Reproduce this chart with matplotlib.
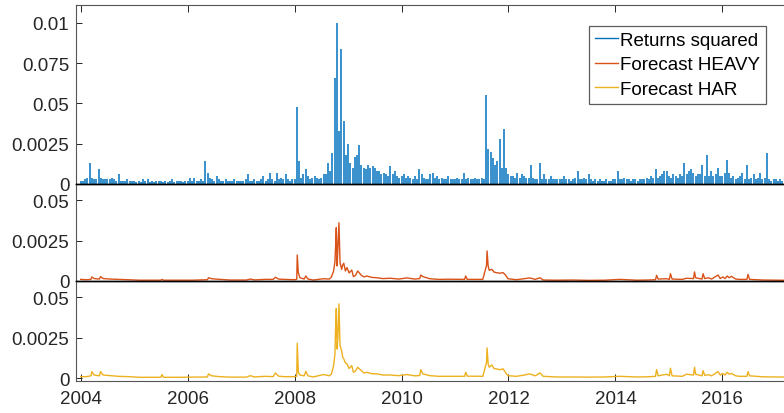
import matplotlib
matplotlib.use('Agg')
import matplotlib.pyplot as plt
from matplotlib.lines import Line2D
import numpy as np

plt.rcParams['font.family'] = ['Liberation Sans', 'DejaVu Sans']

# values are in units of 1e-4
SCALE = 1e-4

# returns squared, envelope read every half month (24 per year), from 2004.0
rs_2004 = [2, 2, 3, 4, 13, 4, 3, 3, 9, 4, 3, 3, 3, 3, 4, 3, 2, 6, 2, 2, 2, 3, 2, 2]
rs_2005 = [2, 1, 2, 1, 3, 2, 3, 1, 2, 1, 2, 2, 2, 1, 2, 1, 2, 3, 1, 2, 2, 2, 1, 2]
rs_2006 = [2, 4, 2, 4, 2, 2, 3, 2, 14, 7, 4, 3, 2, 5, 3, 2, 2, 3, 2, 2, 2, 3, 2, 2]
rs_2007 = [2, 2, 3, 6, 2, 2, 3, 2, 2, 3, 5, 2, 3, 7, 3, 2, 7, 3, 4, 3, 6, 3, 2, 3]
rs_2008 = [3, 48, 14, 4, 6, 9, 5, 3, 4, 5, 4, 3, 4, 6, 6, 13, 8, 19, 66, 100, 33, 84, 39, 18]
rs_2009 = [25, 13, 10, 17, 18, 24, 12, 10, 9, 12, 10, 11, 10, 8, 8, 6, 7, 6, 5, 11, 6, 8, 5, 4]
rs_2010 = [5, 6, 4, 5, 4, 3, 5, 3, 9, 6, 4, 3, 3, 6, 7, 4, 5, 3, 4, 3, 3, 5, 3, 3]
rs_2011 = [3, 4, 3, 3, 7, 3, 4, 3, 3, 4, 3, 3, 4, 3, 55, 22, 20, 16, 12, 14, 28, 10, 34, 10]
rs_2012 = [6, 5, 5, 4, 7, 4, 6, 5, 4, 4, 12, 4, 3, 3, 13, 3, 6, 3, 3, 5, 3, 3, 3, 3]
rs_2013 = [3, 5, 3, 3, 2, 3, 4, 8, 3, 3, 4, 3, 6, 3, 2, 3, 2, 3, 2, 2, 3, 2, 2, 3]
rs_2014 = [3, 8, 3, 3, 4, 3, 3, 2, 3, 3, 2, 3, 3, 3, 4, 3, 5, 4, 9, 4, 5, 6, 8, 8]
rs_2015 = [5, 4, 6, 5, 4, 6, 5, 13, 6, 8, 9, 7, 5, 6, 6, 12, 5, 18, 5, 8, 5, 6, 10, 5]
rs_2016 = [5, 7, 15, 7, 4, 5, 3, 4, 5, 7, 3, 12, 3, 4, 6, 3, 4, 7, 3, 4, 19, 3, 2, 3]
rs_2017 = [3, 2, 3, 2, 3, 2]

returns_sq = (rs_2004 + rs_2005 + rs_2006 + rs_2007 + rs_2008 + rs_2009 + rs_2010
              + rs_2011 + rs_2012 + rs_2013 + rs_2014 + rs_2015 + rs_2016 + rs_2017)
rs_dates = 2004 + np.arange(len(returns_sq)) / 24.0

# forecasts, read at the turning points of the lines
fc_dates = [2004.00, 2004.10, 2004.19, 2004.21, 2004.25, 2004.35, 2004.37, 2004.42, 2004.55, 2004.70,
            2004.90, 2005.10, 2005.30, 2005.50, 2005.52, 2005.55, 2005.80, 2006.10, 2006.37, 2006.39,
            2006.45, 2006.60, 2006.80, 2007.10, 2007.17, 2007.25, 2007.45, 2007.60, 2007.64, 2007.70,
            2007.80, 2008.00, 2008.04, 2008.05, 2008.07, 2008.10, 2008.18, 2008.21, 2008.25, 2008.35,
            2008.54, 2008.65, 2008.69, 2008.73, 2008.755, 2008.765, 2008.78, 2008.795, 2008.81, 2008.83,
            2008.85, 2008.88, 2008.90, 2008.92, 2008.95, 2008.98, 2009.02, 2009.07, 2009.10, 2009.14,
            2009.18, 2009.25, 2009.30, 2009.35, 2009.45, 2009.54, 2009.65, 2009.79, 2009.95, 2010.10,
            2010.25, 2010.34, 2010.36, 2010.40, 2010.53, 2010.70, 2010.90, 2011.18, 2011.20, 2011.23,
            2011.52, 2011.59, 2011.60, 2011.62, 2011.64, 2011.69, 2011.73, 2011.77, 2011.84, 2011.90,
            2011.95, 2011.99, 2012.15, 2012.30, 2012.40, 2012.50, 2012.59, 2012.65, 2012.90, 2013.20,
            2013.50, 2013.80, 2014.08, 2014.40, 2014.60, 2014.75, 2014.77, 2014.80, 2014.96, 2015.01,
            2015.03, 2015.06, 2015.25, 2015.33, 2015.46, 2015.48, 2015.50, 2015.62, 2015.64, 2015.67,
            2015.74, 2015.80, 2015.92, 2015.96, 2016.01, 2016.05, 2016.09, 2016.13, 2016.17, 2016.25,
            2016.32, 2016.46, 2016.48, 2016.51, 2016.76, 2017.00, 2017.30]

heavy = [1.0, 0.8, 1.0, 2.5, 1.5, 1.2, 2.7, 1.5, 1.2, 1.0,
         0.7, 0.5, 0.5, 0.5, 1.0, 0.5, 0.5, 0.5, 0.8, 2.0,
         1.4, 1.0, 0.6, 0.6, 1.2, 0.7, 1.0, 1.0, 2.3, 1.2,
         1.0, 0.8, 1.0, 16.1, 5.0, 2.0, 1.2, 3.1, 1.2, 0.6,
         1.4, 1.2, 2.5, 6.2, 12.0, 19.6, 33.0, 9.3, 20.0, 36.0,
         11.4, 7.2, 10.0, 11.0, 6.2, 8.3, 5.0, 6.8, 2.7, 3.5,
         6.2, 3.5, 2.5, 3.1, 2.2, 2.0, 1.5, 1.7, 1.2, 1.9,
         1.2, 1.5, 3.7, 2.7, 1.4, 1.0, 1.1, 1.0, 3.1, 1.0,
         1.0, 9.7, 18.6, 9.3, 6.6, 7.2, 5.5, 5.2, 4.8, 5.2,
         3.5, 1.4, 0.8, 1.5, 1.9, 1.0, 2.0, 0.6, 0.5, 0.6,
         0.4, 0.5, 1.0, 0.5, 0.6, 0.8, 3.5, 1.2, 1.4, 1.0,
         4.5, 1.2, 1.0, 1.7, 1.5, 5.6, 2.0, 1.2, 4.5, 1.5,
         2.0, 1.2, 3.7, 1.5, 2.5, 1.5, 3.1, 2.0, 2.9, 1.2,
         1.0, 1.0, 4.1, 1.0, 0.6, 0.5, 0.4]

har = [1.0, 1.0, 1.5, 4.1, 2.0, 1.5, 4.1, 2.0, 1.6, 1.2,
       1.0, 0.6, 0.6, 0.6, 2.3, 0.6, 0.6, 0.7, 0.8, 2.7,
       1.5, 1.0, 0.7, 0.7, 1.6, 0.8, 1.2, 1.0, 3.3, 1.3,
       1.0, 1.0, 1.2, 21.6, 3.7, 2.0, 1.5, 4.3, 1.5, 0.8,
       2.3, 1.5, 2.7, 7.8, 15.0, 28.4, 43.0, 18.0, 25.0, 45.9,
       20.0, 17.0, 13.0, 12.0, 9.5, 8.8, 6.0, 7.8, 3.7, 4.5,
       6.8, 4.7, 3.2, 3.7, 2.8, 2.7, 2.0, 2.0, 1.6, 2.3,
       1.5, 1.7, 5.3, 2.7, 1.6, 1.2, 1.2, 1.2, 3.7, 1.3,
       1.2, 9.9, 18.7, 8.8, 6.8, 8.2, 6.0, 5.8, 5.3, 5.8,
       3.3, 1.6, 1.2, 2.0, 2.7, 1.5, 3.3, 1.2, 0.8, 0.8,
       0.7, 0.8, 1.2, 0.8, 0.9, 1.2, 5.3, 1.5, 2.5, 1.5,
       6.2, 1.5, 1.2, 2.5, 2.0, 6.8, 2.5, 1.5, 4.7, 1.8,
       2.2, 1.5, 4.1, 2.0, 3.0, 2.0, 3.7, 2.5, 3.0, 1.5,
       1.2, 1.2, 4.1, 1.5, 0.9, 0.8, 0.8]

top_ticks = [0, 25, 50, 75, 100]
top_labels = ['0', '0.0025', '0.05', '0.075', '0.01']
low_ticks = [0, 25, 50]
low_labels = ['0', '0.0025', '0.05']
year_ticks = [2004, 2006, 2008, 2010, 2012, 2014, 2016]

blue = '#0072BD'
red = '#D95319'
yellow = '#EDB120'
axc = '#262626'

W, H = 784.0, 414.0
x_left_px, x_2004_px, px_per_year = 76.3, 80.7, 53.47
xmin = 2004 + (x_left_px - x_2004_px) / px_per_year
xmax = 2004 + (W - x_2004_px) / px_per_year

fig = plt.figure(figsize=(W / 100, H / 100), dpi=100)
ax1 = fig.add_axes([x_left_px / W, (H - 185) / H, 1 - x_left_px / W, 179 / H])
ax2 = fig.add_axes([x_left_px / W, (H - 282) / H, 1 - x_left_px / W, 97 / H])
ax3 = fig.add_axes([x_left_px / W, (H - 381.7) / H, 1 - x_left_px / W, 99.7 / H])

ax1.vlines(rs_dates, 0, np.array(returns_sq) * SCALE, color=blue, lw=1.1)
ax2.plot(fc_dates, np.array(heavy) * SCALE, color=red, lw=1.0)
ax3.plot(fc_dates, np.array(har) * SCALE, color=yellow, lw=1.0)

ax1.set_ylim(0, 111 * SCALE)
ax2.set_ylim(0, 60 * SCALE)
ax3.set_ylim(-1.5 * SCALE, 60 * SCALE)

for ax in (ax1, ax2, ax3):
    ax.set_xlim(xmin, xmax)
    ax.set_facecolor('none')
    ax.spines['right'].set_visible(False)
    ax.spines['left'].set_color('#555555')
    ax.spines['left'].set_linewidth(0.8)
    ax.tick_params(axis='y', direction='in', length=4, width=0.7, color=axc,
                   labelsize=13.5, labelcolor=axc, pad=5)
    ax.set_xticks(year_ticks)

ax1.set_yticks([v * SCALE for v in top_ticks])
ax1.set_yticklabels(top_labels)
ax2.set_yticks([v * SCALE for v in low_ticks])
ax2.set_yticklabels(low_labels)
ax3.set_yticks([v * SCALE for v in low_ticks])
ax3.set_yticklabels(low_labels)

# top panel: ticks along the top edge only
ax1.tick_params(axis='x', direction='in', length=5, width=0.7, color=axc,
                top=True, bottom=False, labeltop=False, labelbottom=False)
ax1.spines['top'].set_color('#555555')
ax1.spines['top'].set_linewidth(0.8)
ax1.spines['bottom'].set_color('black')
ax1.spines['bottom'].set_linewidth(1.0)

ax2.tick_params(axis='x', top=False, bottom=False, labelbottom=False)
ax2.spines['top'].set_color('black')
ax2.spines['top'].set_linewidth(1.0)
ax2.spines['bottom'].set_color('black')
ax2.spines['bottom'].set_linewidth(1.0)

ax3.tick_params(axis='x', direction='in', length=5, width=0.7, color=axc,
                labelsize=13.5, labelcolor=axc, pad=7)
ax3.spines['top'].set_color('black')
ax3.spines['top'].set_linewidth(1.0)
ax3.spines['bottom'].set_color('#555555')
ax3.spines['bottom'].set_linewidth(0.8)

handles = [Line2D([], [], color=blue, lw=1.0),
           Line2D([], [], color=red, lw=1.0),
           Line2D([], [], color=yellow, lw=1.0)]
leg = ax1.legend(handles, ['Returns squared', 'Forecast HEAVY', 'Forecast HAR'],
                 loc='upper right', bbox_to_anchor=(766 / W, (H - 27) / H),
                 bbox_transform=fig.transFigure, fontsize=13.5, frameon=True,
                 fancybox=False, borderpad=0.3, labelspacing=0.4,
                 handlelength=1.2, handletextpad=0.15, borderaxespad=0)
leg.get_frame().set_edgecolor('#333333')
leg.get_frame().set_linewidth(0.9)
for t in leg.get_texts():
    t.set_color('black')

fig.savefig('out.png', dpi=100)
